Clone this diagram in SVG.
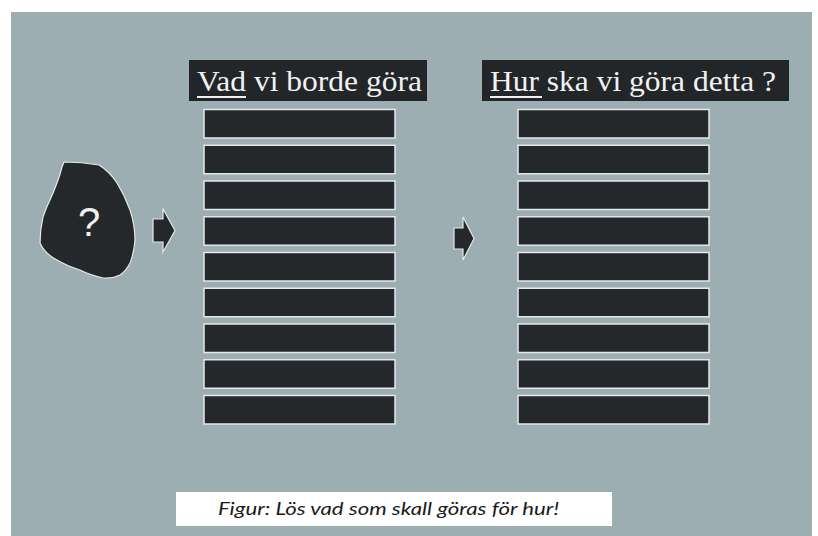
<svg xmlns="http://www.w3.org/2000/svg" width="818" height="536" viewBox="0 0 818 536">
<style>
.bar{fill:#25282a;stroke:#e4e8e8;stroke-width:1.5}
.title{fill:#232629}
.tt{font-family:"Liberation Serif","Times New Roman",serif;font-size:29px;fill:#f2f2f2}
.arrow{fill:#25282a;stroke:#e4e8e8;stroke-width:1.2;stroke-linejoin:miter}
</style>
<rect x="0" y="0" width="818" height="536" fill="#ffffff"/>
<rect x="11" y="12" width="801" height="524" fill="#9caeb2"/>
<g id="problem">
<path d="M64,162 Q82,162 99,165 Q110,172 117,183 Q125,196 130,210 Q135,225 135,240 Q134,253 130,263 Q126,271 120,275 Q112,279 103,278 Q90,275 80,270 Q67,266 57,260 Q45,254 40,243 Q40,230 43,217 Q46,208 50,200 Q54,191 57,183 Q60,175 62,167 Z" fill="#25282a" stroke="#e4e8e8" stroke-width="1.2"/>
<text x="89" y="236" text-anchor="middle" font-family="Liberation Sans, Arial, sans-serif" font-size="40" fill="#f2f2f2">?</text>
</g>
<g id="title-vad">
<rect class="title" x="189" y="60" width="238" height="41"/>
<text class="tt" x="197" y="91" textLength="225" lengthAdjust="spacingAndGlyphs">Vad vi borde göra</text>
<rect x="197" y="96" width="49" height="2" fill="#f2f2f2"/>
</g>
<g id="title-hur">
<rect class="title" x="482" y="60" width="307" height="41"/>
<text class="tt" x="490" y="91" textLength="286" lengthAdjust="spacingAndGlyphs">Hur ska vi göra detta ?</text>
<rect x="490" y="96" width="52" height="2" fill="#f2f2f2"/>
</g>
<g id="list-vad">
<rect class="bar" x="204" y="109.5" width="191" height="28.5"/>
<rect class="bar" x="204" y="145.25" width="191" height="28.5"/>
<rect class="bar" x="204" y="181" width="191" height="28.5"/>
<rect class="bar" x="204" y="216.75" width="191" height="28.5"/>
<rect class="bar" x="204" y="252.5" width="191" height="28.5"/>
<rect class="bar" x="204" y="288.25" width="191" height="28.5"/>
<rect class="bar" x="204" y="324" width="191" height="28.5"/>
<rect class="bar" x="204" y="359.75" width="191" height="28.5"/>
<rect class="bar" x="204" y="395.5" width="191" height="28.5"/>
</g>
<g id="list-hur">
<rect class="bar" x="518" y="109.5" width="191" height="28.5"/>
<rect class="bar" x="518" y="145.25" width="191" height="28.5"/>
<rect class="bar" x="518" y="181" width="191" height="28.5"/>
<rect class="bar" x="518" y="216.75" width="191" height="28.5"/>
<rect class="bar" x="518" y="252.5" width="191" height="28.5"/>
<rect class="bar" x="518" y="288.25" width="191" height="28.5"/>
<rect class="bar" x="518" y="324" width="191" height="28.5"/>
<rect class="bar" x="518" y="359.75" width="191" height="28.5"/>
<rect class="bar" x="518" y="395.5" width="191" height="28.5"/>
</g>
<g id="connectors">
<path class="arrow" d="M153,219 L163,219 L163,209 L175,230.5 L163,252 L163,242 L153,242 Z"/>
<path class="arrow" d="M454,228 L463,228 L463,217 L474,238.5 L463,260 L463,249 L454,249 Z"/>
</g>
<g id="caption">
<rect x="176" y="492" width="436" height="34" fill="#ffffff"/>
<text x="218" y="515" font-family="Lato, 'Open Sans', sans-serif" font-style="italic" font-size="18" fill="#1a1a1a" textLength="341" lengthAdjust="spacingAndGlyphs">Figur: Lös vad som skall göras för hur!</text>
</g>
</svg>
